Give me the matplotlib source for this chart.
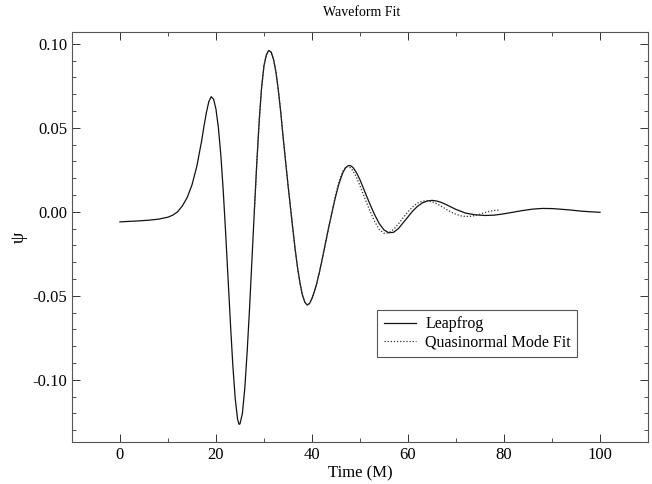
import matplotlib
matplotlib.use("Agg")
import matplotlib.pyplot as plt
from matplotlib.ticker import MultipleLocator, FormatStrFormatter

plt.rcParams['font.family'] = ['Liberation Serif', 'DejaVu Serif']
plt.rcParams['axes.unicode_minus'] = False

# Leapfrog waveform
leap_t = [0, 2, 4, 6, 8, 10, 11, 12, 13, 14, 15, 16, 17, 17.5, 18, 18.5, 19, 19.5,
          20, 20.5, 21, 21.5, 22, 22.5, 23, 23.5, 24, 24.5, 24.8, 25, 25.5, 26, 26.5,
          27, 27.5, 28, 28.5, 29, 29.5, 30, 30.5, 31, 31.5, 32, 32.5, 33, 33.5, 34,
          34.5, 35, 35.5, 36, 36.5, 37, 37.5, 38, 38.5, 39, 39.5, 40, 40.5, 41, 41.5,
          42, 42.5, 43, 43.5, 44, 44.5, 45, 45.5, 46, 46.5, 47, 47.5, 48, 48.5, 49,
          49.5, 50, 51, 52, 53, 54, 55, 56, 57, 58, 59, 60, 61, 62, 63, 64, 65, 66,
          67, 68, 69, 70, 72, 74, 76, 78, 80, 82, 84, 86, 88, 90, 92, 94, 96, 98, 100]
leap_psi = [-0.0060, -0.0057, -0.0054, -0.0050, -0.0044, -0.0032, -0.0020, 0.0000,
            0.0035, 0.0085, 0.0160, 0.0270, 0.0420, 0.0510, 0.0590, 0.0655, 0.0685,
            0.0670, 0.0610, 0.0500, 0.0340, 0.0130, -0.0120, -0.0390, -0.0660,
            -0.0910, -0.1110, -0.1235, -0.1265, -0.1262, -0.1200, -0.1050, -0.0830,
            -0.0570, -0.0280, 0.0010, 0.0290, 0.0540, 0.0740, 0.0870, 0.0935, 0.0960,
            0.0950, 0.0905, 0.0830, 0.0720, 0.0590, 0.0440, 0.0300, 0.0160, 0.0030,
            -0.0100, -0.0225, -0.0335, -0.0425, -0.0495, -0.0538, -0.0555, -0.0545,
            -0.0515, -0.0475, -0.0425, -0.0365, -0.0300, -0.0230, -0.0160, -0.0090,
            -0.0025, 0.0040, 0.0100, 0.0155, 0.0200, 0.0237, 0.0262, 0.0274, 0.0275,
            0.0265, 0.0245, 0.0220, 0.0190, 0.0120, 0.0050, -0.0015, -0.0070,
            -0.0108, -0.0125, -0.0122, -0.0100, -0.0065, -0.0030, 0.0005, 0.0033,
            0.0053, 0.0064, 0.0068, 0.0064, 0.0055, 0.0042, 0.0028, 0.0014, -0.0008,
            -0.0018, -0.0022, -0.0020, -0.0012, -0.0002, 0.0008, 0.0016, 0.0020,
            0.0019, 0.0015, 0.0010, 0.0004, 0.0000, -0.0003]

# Quasinormal mode fit
qnm_t = [28, 28.5, 29, 29.5, 30, 30.5, 31, 31.5, 32, 32.5, 33, 33.5, 34, 34.5, 35,
         35.5, 36, 36.5, 37, 37.5, 38, 38.5, 39, 39.5, 40, 40.5, 41, 41.5, 42, 42.5,
         43, 43.5, 44, 44.5, 45, 45.5, 46, 46.5, 47, 47.5, 48, 48.5, 49, 49.5, 50,
         51, 52, 53, 54, 55, 56, 57, 58, 59, 60, 61, 62, 63, 64, 65, 66, 67, 68, 69,
         70, 71, 72, 73, 74, 75, 76, 77, 78, 79]
qnm_psi = [0.0010, 0.0290, 0.0540, 0.0740, 0.0870, 0.0935, 0.0960, 0.0950, 0.0905,
           0.0830, 0.0720, 0.0590, 0.0440, 0.0300, 0.0160, 0.0030, -0.0100, -0.0225,
           -0.0335, -0.0425, -0.0495, -0.0538, -0.0555, -0.0545, -0.0515, -0.0475,
           -0.0425, -0.0365, -0.0300, -0.0230, -0.0160, -0.0090, -0.0025, 0.0045,
           0.0110, 0.0165, 0.0210, 0.0245, 0.0265, 0.0270, 0.0262, 0.0245, 0.0220,
           0.0190, 0.0155, 0.0080, 0.0010, -0.0055, -0.0105, -0.0128, -0.0125,
           -0.0105, -0.0072, -0.0035, 0.0000, 0.0030, 0.0052, 0.0063, 0.0066, 0.0060,
           0.0048, 0.0032, 0.0014, -0.0002, -0.0015, -0.0024, -0.0028, -0.0027,
           -0.0022, -0.0014, -0.0005, 0.0003, 0.0008, 0.0010]

fig = plt.figure(figsize=(6.52, 4.84), dpi=100)
ax = fig.add_axes([0.1104, 0.0868, 0.8835, 0.8471])

ax.plot(leap_t, leap_psi, color='#111111', lw=0.9, label='Leapfrog')
ax.plot(qnm_t, qnm_psi, color='#333333', lw=0.9, ls=(0, (1, 1.5)), label='Quasinormal Mode Fit')

ax.set_xlim(-10, 110)
ax.set_ylim(-0.137, 0.107)
ax.xaxis.set_major_locator(MultipleLocator(20))
ax.xaxis.set_minor_locator(MultipleLocator(10))
ax.yaxis.set_major_locator(MultipleLocator(0.05))
ax.yaxis.set_minor_locator(MultipleLocator(0.01))
ax.yaxis.set_major_formatter(FormatStrFormatter('%.2f'))
ax.tick_params(which='both', direction='in', top=True, right=True, labelsize=12,
               colors='#333333', labelcolor='black')
ax.tick_params(which='major', length=6, width=0.7)
ax.tick_params(which='minor', length=3, width=0.6)
for s in ax.spines.values():
    s.set_linewidth(0.8)
    s.set_color('#555555')

ax.set_xlabel('Time (M)', fontsize=12, labelpad=2)
ax.set_ylabel('ψ', fontsize=13, labelpad=3)
fig.text(0.555, 0.975, 'Waveform Fit', ha='center', va='center', fontsize=10)

leg = ax.legend(loc='lower left', bbox_to_anchor=(0.53, 0.207), borderaxespad=0,
                fontsize=11.5, handlelength=2.0, fancybox=False, framealpha=1,
                borderpad=0.4, labelspacing=0.15, handletextpad=0.6)
leg.get_frame().set_edgecolor('#555555')
leg.get_frame().set_linewidth(0.8)

fig.savefig('out.png', dpi=100)
